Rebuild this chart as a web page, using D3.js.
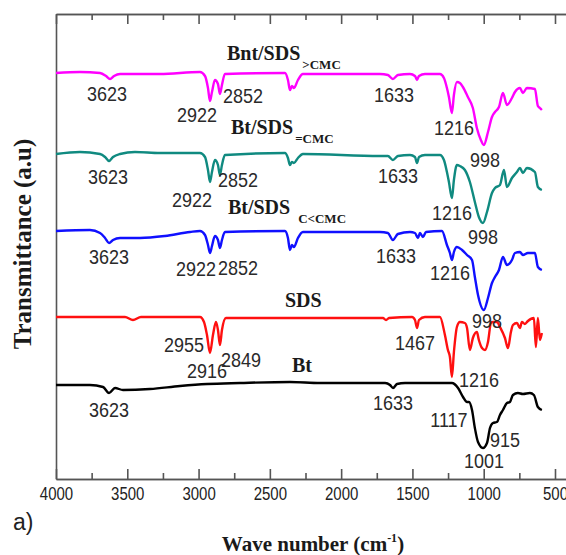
<!DOCTYPE html>
<html>
<head>
<meta charset="utf-8">
<script src="https://cdn.jsdelivr.net/npm/d3@7/dist/d3.min.js"></script>
<style>
  body { margin: 0; background: #fff; }
  svg { display: block; overflow: hidden; }
</style>
</head>
<body>
<script>
// FTIR spectra, [wave number cm-1, transmittance a.u.] (stacked)
const bntSdsAbove = [[4000,101.5],[3832,101.75],[3691,101.5],[3649,100.75],[3621,100],[3593,100.75],[3551,101.25],[3271,101.25],[2990,101.75],[2955,100.75],[2934,97.75],[2920,94.5],[2906,96.75],[2885,99.75],[2864,98.75],[2850,96.25],[2836,98.5],[2815,101.25],[2394,101.5],[2373,99.75],[2359,97.25],[2345,98.25],[2331,97.75],[2303,99.75],[2268,101.25],[1728,101.25],[1672,101],[1637,100],[1602,101],[1517,101.25],[1482,100.75],[1468,99.75],[1454,100.75],[1412,101.25],[1307,101.25],[1279,100.25],[1258,97.75],[1244,95.5],[1223,91.5],[1209,96],[1188,99.25],[1167,99],[1146,98],[1111,95.5],[1076,92.75],[1048,87.75],[1020,84.75],[999,83.5],[970,86.75],[942,90.5],[921,91.75],[893,93],[865,96.5],[837,93.5],[802,95.25],[781,96.75],[746,97.75],[725,96.5],[697,97.75],[641,97.5],[620,93.25],[606,92.75],[592,92.25]];

const btSdsEqual = [[4000,81.25],[3832,81.75],[3691,81.25],[3656,80.5],[3628,79.5],[3600,80.5],[3551,81.25],[3446,81.75],[3271,81.5],[2990,81.5],[2955,80.5],[2934,77.25],[2920,74.25],[2906,76.75],[2885,79.75],[2864,78.5],[2850,76],[2836,78.5],[2815,81],[2394,81.5],[2373,80.25],[2359,78.5],[2345,79.25],[2331,79],[2303,80.25],[2268,81.25],[1728,80.75],[1672,80.75],[1637,79.75],[1602,80.75],[1517,81],[1482,80.5],[1468,79],[1454,80.5],[1412,81],[1307,81],[1279,79.75],[1258,76.75],[1244,74.25],[1223,70.25],[1209,74.75],[1188,78.5],[1167,78.25],[1132,77.25],[1097,74.25],[1062,69.25],[1034,65.5],[1005,64],[977,66.75],[942,71.5],[921,72.75],[886,73.5],[858,77.25],[837,73],[802,75.25],[767,76.75],[746,77.75],[725,76.5],[697,77.75],[641,76.75],[620,73],[592,72.25]];

const btSdsBelow = [[4000,62],[3762,62.25],[3691,61.5],[3656,60.25],[3628,59],[3600,59.75],[3551,60.25],[3411,60.25],[3236,60.75],[3060,61.75],[2990,62],[2955,61],[2934,58.5],[2920,56.5],[2906,58.25],[2885,60.75],[2864,59.75],[2850,57.75],[2836,59.75],[2815,61.75],[2394,62],[2373,60.25],[2359,57.25],[2345,58.5],[2331,58],[2303,60.25],[2268,61.75],[1728,61.75],[1672,61.5],[1637,59.75],[1602,61.25],[1517,61.75],[1482,61.5],[1461,60.25],[1447,61.5],[1426,60.5],[1405,61.75],[1293,62],[1258,58.5],[1237,56.5],[1223,54.75],[1209,56.75],[1188,58],[1152,57.25],[1117,56],[1082,54.75],[1062,50.5],[1040,46],[999,42.25],[970,45.25],[942,49],[921,50.5],[893,52.25],[865,55.5],[837,53.5],[802,54.75],[781,56.5],[746,56.75],[725,56],[690,56.5],[641,56.5],[620,53],[592,52.25]];

const sds = [[4000,40.5],[3516,40.5],[3460,39.75],[3404,40.5],[2990,40.5],[2962,39.25],[2941,36],[2920,31.5],[2899,36],[2878,39.25],[2864,37.25],[2850,33.5],[2836,37.25],[2808,40.25],[1707,40.25],[1685,39.75],[1664,40.25],[1503,40.5],[1482,39.75],[1468,37.75],[1454,39.75],[1412,40.5],[1307,40.5],[1272,36],[1251,32.25],[1237,30.5],[1223,25.5],[1209,31.75],[1188,38],[1167,39.25],[1132,39],[1117,37.75],[1097,32.25],[1076,35.25],[1048,36.75],[1034,34.75],[1012,32.75],[991,32.25],[970,34.25],[949,39],[935,39.25],[907,39.25],[886,38],[851,35.25],[830,32.75],[809,36.75],[795,38.5],[767,39],[746,37.75],[732,39.25],[711,38.75],[690,39.5],[648,40.25],[634,33],[620,40.25],[606,34.75],[592,36.5]];

const bt = [[4000,23.5],[3762,23.5],[3670,23],[3628,21.5],[3586,22.75],[3530,22.25],[3341,22.5],[3130,23.25],[2941,23.75],[2709,24],[2359,24.25],[2148,24],[1692,24],[1657,23.5],[1636,22.75],[1608,23.75],[1552,24],[1223,24],[1180,22.75],[1145,20.5],[1117,19.25],[1103,19.25],[1082,17.25],[1062,12.75],[1040,9.25],[1005,7.75],[977,9],[956,12.75],[935,14],[907,14.25],[886,16],[865,17.25],[837,19],[816,19.25],[795,21],[760,21.5],[725,21.25],[676,21.5],[648,21],[620,18],[592,17.25]];

const seriesNames = ['Bnt/SDS >CMC', 'Bt/SDS =CMC', 'Bt/SDS C<CMC', 'SDS', 'Bt'];
const seriesData = [bntSdsAbove, btSdsEqual, btSdsBelow, sds, bt];
const seriesColors = ['#ff00ff', '#108a80', '#1010ff', '#ff1010', '#000000'];

// series captions: [main, subscript, wave, value]
const captions = [
  ['Bnt/SDS', '>CMC', 2801, 104.75],
  ['Bt/SDS', '=CMC', 2773, 86.25],
  ['Bt/SDS', 'C<CMC', 2794, 66.25],
  ['SDS', '', 2394, 43],
  ['Bt', '', 2345, 26.75]
];

// band labels: [text, wave, value]
const bandLabels = [
  ['3623', 3642, 94.5], ['2922', 3011, 89.25], ['2852', 2688, 94], ['1633', 1629, 94.25], ['1216', 1208, 86], ['998', 991, 78],
  ['3623', 3635, 73.75], ['2922', 3046, 68], ['2852', 2724, 73], ['1633', 1601, 74], ['1216', 1223, 64.75], ['998', 1005, 58.75],
  ['3623', 3628, 53.75], ['2922', 3018, 50.75], ['2852', 2724, 51], ['1633', 1615, 54], ['1216', 1237, 49.75], ['998', 977, 37.75],
  ['2955', 3102, 31.75], ['2916', 2941, 25.25], ['2849', 2702, 28], ['1467', 1482, 32.25], ['1216', 1033, 23],
  ['3623', 3628, 15.5], ['1633', 1636, 17.25], ['1117', 1244, 13], ['915', 851, 8], ['1001', 998, 2.75]
];

const majorTicks = [4000, 3500, 3000, 2500, 2000, 1500, 1000, 500];
const minorTicks = [3750, 3250, 2750, 2250, 1750, 1250, 750];

const width = 566;
const height = 555;

let svg = d3.select('body')
    .append('svg')
    .attr('width', width)
    .attr('height', height);

let plotMargins = {top: 14, bottom: 76, left: 56};
let plotHeight = height - plotMargins.top - plotMargins.bottom;

let xScale = d3.scaleLinear()
    .domain([4000, 400])
    .range([plotMargins.left, plotMargins.left + 3600 * 0.14257]);
let yScale = d3.scaleLinear()
    .domain([0, 116.25])
    .range([plotMargins.top + plotHeight, plotMargins.top]);

const frameColor = '#555';
const yBottom = plotMargins.top + plotHeight;

function styleAxis(g) {
    g.select('.domain').attr('stroke', frameColor).attr('stroke-width', 1.6);
    g.selectAll('.tick line').attr('stroke', frameColor).attr('stroke-width', 1.6);
}

// minor + major ticks, bottom and top, all pointing inwards
svg.append('g')
    .attr('transform', `translate(0,${yBottom})`)
    .call(d3.axisBottom(xScale).tickValues(minorTicks).tickSizeInner(-6).tickSizeOuter(0).tickFormat(''))
    .call(styleAxis);
let xAxisGroup = svg.append('g')
    .attr('transform', `translate(0,${yBottom})`)
    .call(d3.axisBottom(xScale).tickValues(majorTicks).tickSizeInner(-10).tickSizeOuter(0).tickPadding(7).tickFormat(d3.format('d')))
    .call(styleAxis);
xAxisGroup.selectAll('.tick text')
    .attr('font-family', 'Liberation Sans, Arial, sans-serif')
    .attr('font-size', 15)
    .attr('transform', 'scale(1,1.2)')
    .attr('fill', '#222');

svg.append('g')
    .attr('transform', `translate(0,${plotMargins.top})`)
    .call(d3.axisTop(xScale).tickValues(minorTicks).tickSizeInner(-6).tickSizeOuter(0).tickFormat(''))
    .call(styleAxis);
svg.append('g')
    .attr('transform', `translate(0,${plotMargins.top})`)
    .call(d3.axisTop(xScale).tickValues(majorTicks).tickSizeInner(-10).tickSizeOuter(0).tickFormat(''))
    .call(styleAxis);

svg.append('g')
    .attr('transform', `translate(${plotMargins.left},0)`)
    .call(d3.axisLeft(yScale).tickValues([]).tickSizeOuter(0))
    .call(styleAxis);

let line = d3.line()
    .x(d => xScale(d[0]))
    .y(d => yScale(d[1]))
    .curve(d3.curveMonotoneX);

svg.append('g')
    .classed('spectra', true)
    .selectAll('path')
    .data(seriesData)
    .join('path')
    .attr('d', line)
    .attr('fill', 'none')
    .attr('stroke', (d, i) => seriesColors[i])
    .attr('stroke-width', 2.4)
    .attr('stroke-linejoin', 'round');

// band labels (slightly tall glyphs as in the source figure)
svg.append('g')
    .selectAll('text')
    .data(bandLabels)
    .join('text')
    .attr('transform', d => `translate(${xScale(d[1])},${yScale(d[2])}) scale(1,1.15)`)
    .attr('text-anchor', 'middle')
    .attr('font-family', 'Liberation Sans, Arial, sans-serif')
    .attr('font-size', 18)
    .attr('fill', '#2a2a2a')
    .text(d => d[0]);

// series captions with subscripts
let cap = svg.append('g')
    .selectAll('text')
    .data(captions)
    .join('text')
    .attr('x', d => xScale(d[2]))
    .attr('y', d => yScale(d[3]))
    .attr('font-family', 'Liberation Serif, Times New Roman, serif')
    .attr('font-weight', 'bold')
    .attr('font-size', 20)
    .attr('fill', '#1a1a1a');
cap.append('tspan').text(d => d[0]);
cap.append('tspan')
    .attr('font-size', 13)
    .attr('dx', d => d[1] === 'C<CMC' ? 8 : 2)
    .attr('dy', 9)
    .text(d => d[1]);

// axis titles
svg.append('text')
    .attr('transform', `translate(31,244) rotate(-90)`)
    .attr('text-anchor', 'middle')
    .attr('font-family', 'Liberation Serif, Times New Roman, serif')
    .attr('font-weight', 'bold')
    .attr('font-size', 25)
    .attr('fill', '#1a1a1a')
    .text('Transmittance (a.u)');

let xTitle = svg.append('text')
    .attr('x', 313)
    .attr('y', 551)
    .attr('text-anchor', 'middle')
    .attr('font-family', 'Liberation Serif, Times New Roman, serif')
    .attr('font-weight', 'bold')
    .attr('font-size', 21)
    .attr('fill', '#1a1a1a');
xTitle.append('tspan').text('Wave number (cm');
xTitle.append('tspan').attr('font-size', 12).attr('dy', -9).text('-1');
xTitle.append('tspan').attr('dy', 9).text(')');

svg.append('text')
    .attr('x', 13)
    .attr('y', 530)
    .attr('font-family', 'Liberation Sans, Arial, sans-serif')
    .attr('font-size', 23)
    .attr('fill', '#222')
    .text('a)');
</script>
</body>
</html>
